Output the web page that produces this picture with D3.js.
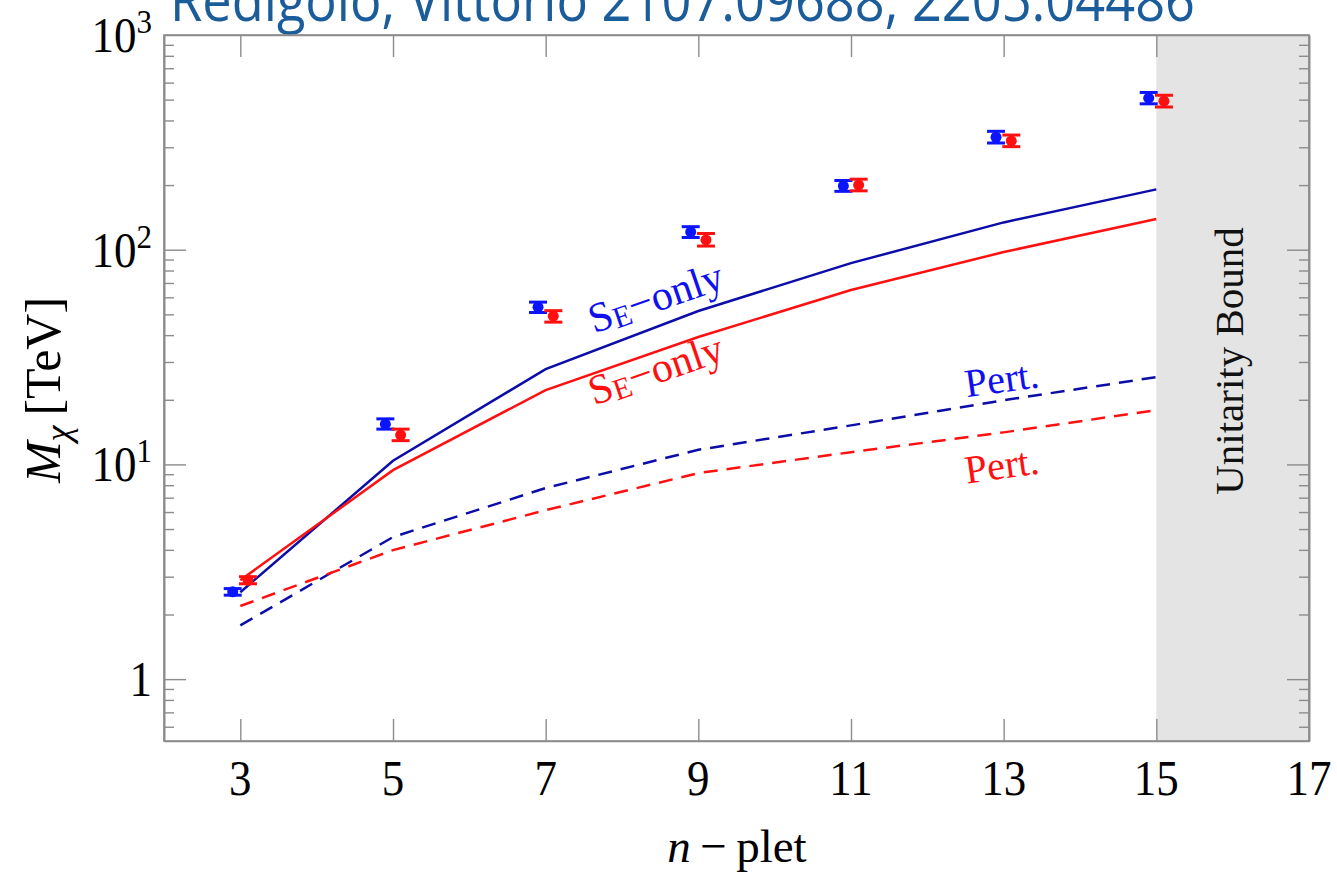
<!DOCTYPE html>
<html>
<head>
<meta charset="utf-8">
<script src="https://cdn.jsdelivr.net/npm/d3@7"></script>
<style>
  body { margin: 0; background: #fff; }
  svg { display: block; }
</style>
</head>
<body>
<script>
const width = 1337;
const height = 878;
const margin = { top: 35, right: 28, bottom: 137, left: 164 };

// n-plets
const nplets = [3, 5, 7, 9, 11, 13, 15];

// lattice / fit points (blue and red), with error bars
const bluePoints = [2.55, 15.4, 54, 121, 198, 334, 508];
const blueLo = [2.46, 14.6, 51, 114, 187, 314, 478];
const blueHi = [2.64, 16.3, 57, 128, 210, 356, 540];
const redPoints = [2.89, 13.7, 49, 111, 200, 321, 492];
const redLo = [2.78, 12.9, 46, 104, 188, 302, 462];
const redHi = [3.00, 14.6, 52, 119, 213, 342, 524];

// curves
const blueSE = [2.54, 10.4, 27.8, 51.8, 86.6, 134, 191];
const redSE = [2.89, 9.4, 22.2, 39.2, 64.9, 97.5, 139];
const bluePert = [1.78, 4.59, 7.76, 11.7, 15.2, 19.9, 25.5];
const redPert = [2.19, 3.99, 6.12, 9.11, 11.4, 14.1, 17.9];

const xTicks = [3, 5, 7, 9, 11, 13, 15, 17];
const yDecades = [1, 10, 100, 1000];
const unitarity = [15, 17];

const colors = {
    blueDot: '#0a14ff',
    blueLine: '#0c0ca8',
    red: '#ff1010',
    frame: '#8c8c8c',
    band: '#e4e4e4',
    title: '#1b5c9b'
};

const x = d3.scaleLinear()
    .domain([2, 17])
    .range([margin.left, width - margin.right]);

const y = d3.scaleLog()
    .domain([0.515, 1000])
    .range([height - margin.bottom, margin.top]);

const svg = d3.create('svg')
    .attr('width', width)
    .attr('height', height)
    .attr('font-family', '"Liberation Serif", "Times New Roman", serif');

// title, cut off by the top edge as in the original
svg.append('text')
    .attr('x', 170)
    .attr('y', 21)
    .attr('font-family', '"Open Sans", sans-serif')
    .attr('font-size', 58)
    .attr('fill', colors.title)
    .attr('textLength', 1025)
    .attr('lengthAdjust', 'spacingAndGlyphs')
    .text('Redigolo, Vittorio  2107.09688, 2205.04486');

// unitarity band
svg.append('rect')
    .attr('x', x(unitarity[0]))
    .attr('y', margin.top)
    .attr('width', x(unitarity[1]) - x(unitarity[0]))
    .attr('height', y.range()[0] - y.range()[1])
    .attr('fill', colors.band);

svg.append('text')
    .attr('transform', `translate(${x(16) + 10},361) rotate(-90)`)
    .attr('text-anchor', 'middle')
    .attr('font-size', 41)
    .attr('fill', '#111')
    .text('Unitarity Bound');

// axes (ticks pointing inward, on all four sides)
const minorTicks = y.ticks().filter(t => !yDecades.includes(t));

const styleAxis = g => {
    g.select('.domain').attr('stroke', colors.frame).attr('stroke-width', 1.6);
    g.selectAll('.tick line').attr('stroke', colors.frame).attr('stroke-width', 1.4);
};

const xBottom = d3.axisBottom(x).tickValues(xTicks.slice(0, -1)).tickSizeInner(-22).tickSizeOuter(0).tickFormat('');
const xTop = d3.axisTop(x).tickValues(xTicks.slice(0, -1)).tickSizeInner(-22).tickSizeOuter(0).tickFormat('');

svg.append('g')
    .attr('transform', `translate(0,${y.range()[0]})`)
    .call(xBottom)
    .call(styleAxis);

svg.append('g')
    .attr('transform', `translate(0,${margin.top})`)
    .call(xTop)
    .call(styleAxis);

const yLeft = d3.axisLeft(y).tickValues(yDecades.slice(0, -1)).tickSizeInner(-22).tickSizeOuter(0).tickFormat('');
const yLeftMinor = d3.axisLeft(y).tickValues(minorTicks).tickSizeInner(-10).tickSizeOuter(0).tickFormat('');
const yRight = d3.axisRight(y).tickValues(yDecades.slice(0, -1)).tickSizeInner(-22).tickSizeOuter(0).tickFormat('');
const yRightMinor = d3.axisRight(y).tickValues(minorTicks).tickSizeInner(-10).tickSizeOuter(0).tickFormat('');

svg.append('g')
    .attr('transform', `translate(${margin.left},0)`)
    .call(yLeft)
    .call(styleAxis);
svg.append('g')
    .attr('transform', `translate(${margin.left},0)`)
    .call(yLeftMinor)
    .call(styleAxis);
svg.append('g')
    .attr('transform', `translate(${width - margin.right},0)`)
    .call(yRight)
    .call(styleAxis);
svg.append('g')
    .attr('transform', `translate(${width - margin.right},0)`)
    .call(yRightMinor)
    .call(styleAxis);

// x tick labels
svg.append('g')
    .selectAll('text')
    .data(xTicks)
    .join('text')
    .attr('transform', d => `translate(${x(d)},${y.range()[0] + 54}) scale(1,1.12)`)
    .attr('text-anchor', 'middle')
    .attr('font-size', 45)
    .text(d => d);

// y tick labels with superscripts
const yLab = svg.append('g')
    .selectAll('text')
    .data(yDecades)
    .join('text')
    .attr('transform', d => `translate(${margin.left - 12},${y(d) + 17}) scale(1,1.12)`)
    .attr('text-anchor', 'end')
    .attr('font-size', 45);

yLab.filter(d => d === 1).text('1');
yLab.filter(d => d !== 1).each(function(d) {
    const t = d3.select(this);
    t.append('tspan').text('10');
    t.append('tspan')
        .attr('font-size', 31)
        .attr('dy', -17)
        .text(Math.round(Math.log10(d)));
});

// axis titles
const yTitle = svg.append('text')
    .attr('transform', `translate(60,390) rotate(-90)`)
    .attr('text-anchor', 'middle')
    .attr('font-size', 50);
yTitle.append('tspan').attr('font-style', 'italic').text('M');
yTitle.append('tspan').attr('font-style', 'italic').attr('font-size', 36).attr('dy', 10).text('χ');
yTitle.append('tspan').attr('dy', -10).text('\u2009[TeV]');

const xTitle = svg.append('text')
    .attr('x', 737)
    .attr('y', 862)
    .attr('text-anchor', 'middle')
    .attr('font-size', 47);
xTitle.append('tspan').attr('font-style', 'italic').text('n');
xTitle.append('tspan').text('\u2009−\u2009plet');

// curves
const line = d3.line()
    .x((d, i) => x(nplets[i]))
    .y(d => y(d));

const curves = [
    { values: blueSE, color: colors.blueLine, dash: null },
    { values: redSE, color: colors.red, dash: null },
    { values: bluePert, color: colors.blueLine, dash: '14,9' },
    { values: redPert, color: colors.red, dash: '14,9' }
];

svg.append('g')
    .selectAll('path')
    .data(curves)
    .join('path')
    .attr('d', d => line(d.values))
    .attr('fill', 'none')
    .attr('stroke', d => d.color)
    .attr('stroke-width', 2.5)
    .attr('stroke-dasharray', d => d.dash);

// points with error bars
const pointSets = [
    { values: bluePoints, lo: blueLo, hi: blueHi, shift: -0.1, color: colors.blueDot },
    { values: redPoints, lo: redLo, hi: redHi, shift: 0.1, color: colors.red }
];

pointSets.forEach(set => {
    const g = svg.append('g')
        .selectAll('g')
        .data(set.values.map((v, i) => ({ n: nplets[i], v, lo: set.lo[i], hi: set.hi[i] })))
        .join('g')
        .attr('stroke', set.color)
        .attr('fill', set.color);
    g.append('line')
        .attr('x1', d => x(d.n + set.shift))
        .attr('x2', d => x(d.n + set.shift))
        .attr('y1', d => y(d.lo))
        .attr('y2', d => y(d.hi))
        .attr('stroke-width', 2.5);
    [d => d.lo, d => d.hi].forEach(acc => {
        g.append('line')
            .attr('x1', d => x(d.n + set.shift) - 9)
            .attr('x2', d => x(d.n + set.shift) + 9)
            .attr('y1', d => y(acc(d)))
            .attr('y2', d => y(acc(d)))
            .attr('stroke-width', 3);
    });
    g.append('circle')
        .attr('cx', d => x(d.n + set.shift))
        .attr('cy', d => y(d.v))
        .attr('r', 5.5)
        .attr('stroke', 'none');
});

// curve labels
const labels = [
    { text: 'S', sub: 'E', rest: '−only', n: 8.5, v: 52, rot: -19, size: 42, color: '#1010ee' },
    { text: 'S', sub: 'E', rest: '−only', n: 8.5, v: 24, rot: -19, size: 42, color: colors.red },
    { text: 'Pert.', n: 13.0, v: 21.7, rot: -8, size: 40, color: '#1010ee' },
    { text: 'Pert.', n: 13.0, v: 8.6, rot: -8, size: 40, color: colors.red }
];

labels.forEach(l => {
    const t = svg.append('text')
        .attr('transform', `translate(${x(l.n)},${y(l.v)}) rotate(${l.rot})`)
        .attr('text-anchor', 'middle')
        .attr('font-size', l.size)
        .attr('fill', l.color);
    t.append('tspan').text(l.text);
    if (l.sub) {
        t.append('tspan').attr('font-size', l.size * 0.72).attr('dy', 3).text(l.sub);
        t.append('tspan').attr('dy', -3).text(l.rest);
    }
});

// frame on top
svg.append('rect')
    .attr('x', margin.left)
    .attr('y', margin.top)
    .attr('width', x.range()[1] - x.range()[0])
    .attr('height', y.range()[0] - y.range()[1])
    .attr('fill', 'none')
    .attr('stroke', colors.frame)
    .attr('stroke-width', 1.6);

document.querySelector('body').appendChild(svg.node());
</script>
</body>
</html>
